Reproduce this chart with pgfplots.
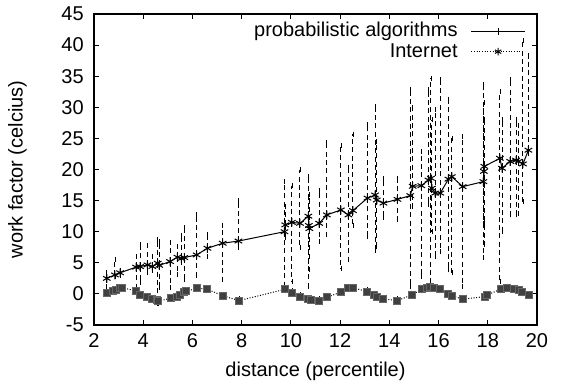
\documentclass[border=0pt]{standalone}
\usepackage{fontspec}
\setmainfont{Liberation Sans}
\usepackage{pgfplots}
\pgfplotsset{compat=1.18}
\usepackage{pgfplotstable}

\pgfplotstableread{
x y ep em
2.52 2.5 0.9 1.3
2.85 3.05 2.45 0.25
3.06 3.4 0.4 0.4
3.71 4.3 1.7 3.1
3.87 4.4 3.6 2.6
4.17 4.66 3.14 1.16
4.37 4.4 1.6 0.6
4.59 4.93 3.87 6.43
4.65 4.6 3.8 3.6
5.09 5.2 3.1 4.2
5.39 5.9 1.7 2.7
5.55 5.7 3.7 0.7
5.67 5.84 4.76 3.59
6.17 6.27 6.53 3.27
6.61 7.34 2.16 1.34
7.23 8.15 2.85 5.9
7.87 8.5 6.5 1.1
9.74 10.0 8.0 9.4
9.77 11.1 2.9 2.1
10.04 11.5 5.9 9.5
10.37 11.35 8.65 3.95
10.71 12.5 6.4 11.3
10.73 11.0 5.0 7.0
10.75 10.5 4.5 4.5
11.15 11.35 5.35 2.95
11.46 12.7 11.6 3.2
12.03 13.5 10.3 9.4
12.34 12.7 7.7 7.2
12.52 13.4 12.3 2.4
13.11 15.4 11.8 6.2
13.42 15.9 14.2 8.9
13.49 15.1 9.4 7.5
13.76 14.6 3.9 2.3
14.33 15.2 3.4 3.3
14.85 15.8 17.1 14.6
14.95 17.3 12.6 3.3
15.3 17.4 5.5 14.6
15.59 18.3 14.5 4.0
15.69 18.6 16.1 17.6
15.73 17.0 11.0 7.0
15.86 16.2 13.4 10.2
16.07 16.2 18.2 9.4
16.4 18.45 12.85 14.55
16.54 18.85 6.15 15.45
16.98 17.25 8.05 16.05
17.82 18.05 15.55 12.25
17.84 19.7 11.0 8.3
17.86 20.5 7.5 12.5
18.49 21.8 10.7 19.8
18.58 20.2 7.8 10.2
18.91 21.3 13.1 8.6
19.15 21.5 6.6 8.8
19.25 21.3 5.7 8.3
19.43 20.9 19.8 6.1
19.65 23.1 15.3 0.6
}\upperdata

\pgfplotstableread{
x y
2.52 0.2
2.79 0.48
2.9 0.7
3.06 0.9
3.13 1.0
3.71 0.48
3.87 -0.16
4.17 -0.53
4.35 -0.8
4.55 -0.96
4.6 -1.2
5.12 -0.7
5.36 -0.43
5.5 -0.16
5.66 0.27
5.74 0.4
6.17 0.9
6.58 0.8
7.26 -0.35
7.9 -1.07
9.77 0.75
10.04 0.2
10.37 -0.43
10.71 -0.85
10.8 -0.9
11.16 -1.07
11.46 -0.53
12.03 0.27
12.34 0.9
12.52 1.0
13.09 0.37
13.38 -0.16
13.5 -0.43
13.75 -0.8
14.33 -1.07
14.91 -0.16
15.32 0.75
15.52 1.0
15.65 1.1
15.8 1.0
16.04 0.75
16.4 0.0
16.54 -0.3
16.98 -0.85
17.89 -0.43
17.95 -0.2
18.53 0.75
18.8 1.0
19.05 0.8
19.25 0.6
19.4 0.27
19.68 -0.16
}\lowerdata

\begin{document}
\fontsize{12}{14}\selectfont
\begin{tikzpicture}
\useasboundingbox (-56.4pt,-39pt) rectangle (280.8pt,195pt);
\begin{axis}[
  scale only axis, width=265.8pt, height=186.6pt,
  at={(0,0)}, anchor=south west,
  xmin=2, xmax=20, ymin=-5, ymax=45,
  xtick={2,4,...,20}, ytick={-5,0,...,45},
  tick align=inside, major tick length=3pt,
  tick style={black, line width=0.6pt},
  axis line style={line width=0.9pt},
  /pgf/number format/assume math mode=true,
  ticklabel style={font=\fontsize{12}{14}\selectfont},
  yticklabel style={xshift=-2pt},
  xticklabel style={yshift=-1pt},
  xlabel={distance (percentile)},
  ylabel={work factor (celcius)},
  label style={font=\fontsize{12}{14}\selectfont},
  xlabel style={at={(axis description cs:0.5,-0.150)}, anchor=center},
  ylabel style={at={(axis description cs:-0.173,0.5)}, anchor=center},
  legend style={at={(rel axis cs:0.978,0.99)}, anchor=north east, draw=none, fill=none,
    font=\fontsize{12}{14}\selectfont, row sep=-2pt, inner sep=1pt,
    /tikz/every odd column/.append style={column sep=6pt}},
  legend cell align=right,
  legend plot pos=right,
  legend image code/.code={\draw[mark repeat=2,mark phase=2,#1] plot coordinates {(0pt,0pt) (16pt,0pt) (32pt,0pt)};},
]
\addlegendimage{black, line width=0.6pt, solid, mark=+, mark size=2pt}
\addlegendentry{probabilistic algorithms}
\addlegendimage{black, line width=0.6pt, densely dotted, mark=asterisk, mark size=2.2pt, mark options={solid}}
\addlegendentry{Internet}
\addplot[forget plot, black, line width=0.6pt, mark=asterisk, mark size=2.6pt, mark options={solid},
  error bars/.cd, y dir=both, y explicit, error mark=-, error mark options={mark size=1.5pt, solid},
  error bar style={densely dashed, line width=0.6pt}]
  table[x=x, y=y, y error plus=ep, y error minus=em] {\upperdata};
\addplot[forget plot, black, line width=0.6pt, densely dotted, mark=square*, mark size=2.1pt,
  mark options={solid, fill=black!75, draw=black!60},
  error bars/.cd, y dir=both, y fixed=0.35, error mark=-, error mark options={mark size=1.2pt, solid},
  error bar style={densely dotted, line width=0.5pt}]
  table[x=x, y=y] {\lowerdata};
\end{axis}
\end{tikzpicture}
\end{document}
